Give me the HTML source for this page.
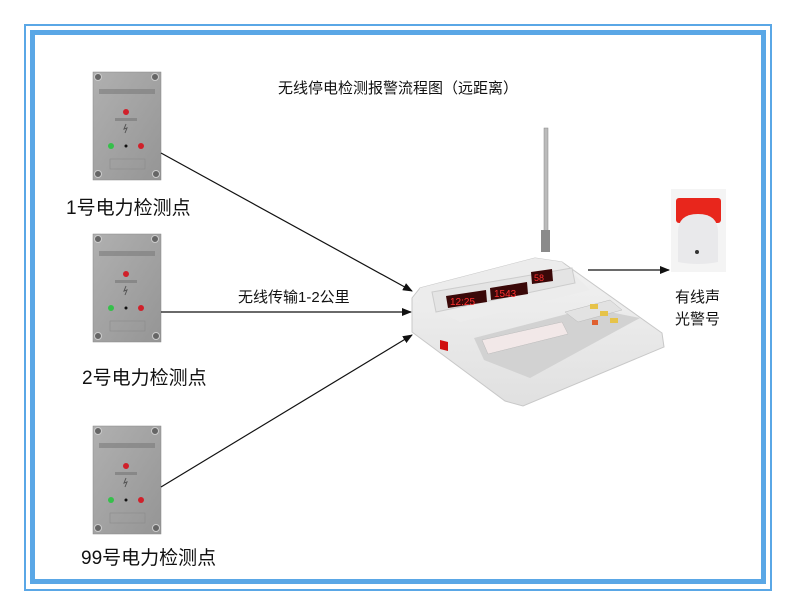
<!DOCTYPE html>
<html><head><meta charset="utf-8"><style>
html,body{margin:0;padding:0;background:#fff;width:799px;height:615px;overflow:hidden}
svg text{font-family:"Liberation Sans","Noto Sans CJK SC",sans-serif;fill:#111}
</style></head><body>
<svg width="799" height="615" viewBox="0 0 799 615" xmlns="http://www.w3.org/2000/svg">
<defs>
<linearGradient id="pg" x1="0" y1="0" x2="1" y2="1"><stop offset="0" stop-color="#b0b0b0"/><stop offset="1" stop-color="#959595"/></linearGradient>
<linearGradient id="bg" x1="0" y1="0" x2="0" y2="1"><stop offset="0" stop-color="#f2f2f2"/><stop offset="1" stop-color="#e0e0e0"/></linearGradient>
<marker id="ar" markerWidth="10" markerHeight="8" refX="9" refY="4" orient="auto" markerUnits="userSpaceOnUse"><path d="M0,0 L10,4 L0,8 Z" fill="#111"/></marker>
<g id="panel">
<rect x="0" y="0" width="68" height="108" fill="url(#pg)" stroke="#888" stroke-width="0.5"/>
<circle cx="5" cy="5" r="3.5" fill="#666" stroke="#ccc"/><circle cx="62" cy="5" r="3.5" fill="#666" stroke="#ccc"/>
<circle cx="5" cy="102" r="3.5" fill="#666" stroke="#ccc"/><circle cx="63" cy="102" r="3.5" fill="#666" stroke="#ccc"/>
<rect x="6" y="17" width="56" height="5" fill="#7c7c7c" opacity="0.6"/>
<circle cx="33" cy="40" r="3" fill="#d0202a"/>
<rect x="22" y="46" width="22" height="3" fill="#888"/>
<path d="M33,52 L31,57 L34,56 L32,61" stroke="#555" fill="none"/>
<circle cx="18" cy="74" r="3" fill="#35c04a"/><circle cx="33" cy="74" r="1.5" fill="#111"/><circle cx="48" cy="74" r="3" fill="#d0202a"/>
<rect x="17" y="87" width="35" height="10" fill="none" stroke="#8a8a8a" stroke-width="0.6"/>
</g>
</defs>
<rect x="25" y="25" width="746" height="565" fill="none" stroke="#5aa7e6" stroke-width="2"/>
<rect x="32.5" y="32.5" width="731" height="549" fill="none" stroke="#5aa7e6" stroke-width="5"/>
<text x="278" y="93" font-size="15">无线停电检测报警流程图（远距离）</text>
<use href="#panel" x="93" y="72"/>
<use href="#panel" x="93" y="234"/>
<use href="#panel" x="93" y="426"/>
<text x="66" y="214" font-size="19">1号电力检测点</text>
<text x="82" y="384" font-size="19">2号电力检测点</text>
<text x="81" y="564" font-size="19">99号电力检测点</text>
<text x="238" y="302" font-size="15">无线传输1-2公里</text>
<line x1="161" y1="153" x2="412" y2="291" stroke="#111" stroke-width="1.2" marker-end="url(#ar)"/>
<line x1="161" y1="312" x2="411" y2="312" stroke="#111" stroke-width="1.2" marker-end="url(#ar)"/>
<line x1="161" y1="487" x2="412" y2="335" stroke="#111" stroke-width="1.2" marker-end="url(#ar)"/>
<line x1="588" y1="270" x2="669" y2="270" stroke="#111" stroke-width="1.2" marker-end="url(#ar)"/>
<!-- antenna -->
<rect x="544" y="128" width="4" height="110" fill="#bbb" stroke="#888" stroke-width="0.5"/>
<rect x="541" y="230" width="9" height="22" fill="#8a8a8a"/>
<!-- device body -->
<polygon points="412,298 420,288 535,258 562,262 662,333 664,347 523,406 505,401 412,332" fill="url(#bg)" stroke="#c8c8c8"/>
<polygon points="420,288 535,258 562,262 590,290 460,322 418,300" fill="#ececec"/>
<polygon points="432,292 572,268 575,283 436,312" fill="#e4e4e4" stroke="#ccc"/>
<polygon points="446,296 486,290 487,302 448,308" fill="#3a0808"/><text x="450" y="305" font-size="10" style="fill:#ff3030">12:25</text>
<polygon points="490,288 527,282 528,294 491,300" fill="#3a0808"/><text x="494" y="297" font-size="10" style="fill:#ff3030">1543</text>
<polygon points="531,272 552,269 553,281 532,284" fill="#3a0808"/><text x="534" y="281" font-size="9" style="fill:#ff3030">58</text>
<polygon points="474,338 590,308 640,318 530,378 484,360" fill="#d2d2d2"/>
<polygon points="482,340 562,322 568,334 488,354" fill="#f2e8e8" stroke="#bbb" stroke-width="0.5"/>
<polygon points="565,312 610,300 622,310 578,322" fill="#e2e2e2" stroke="#bbb" stroke-width="0.5"/>
<rect x="590" y="304" width="8" height="5" fill="#e6c34a"/><rect x="600" y="311" width="8" height="5" fill="#e6c34a"/><rect x="610" y="318" width="8" height="5" fill="#e6c34a"/>
<rect x="592" y="320" width="6" height="5" fill="#e06030"/>
<polygon points="440,340 448,342 448,351 440,349" fill="#d01010"/>
<!-- alarm -->
<rect x="671" y="189" width="55" height="83" fill="#f4f4f4"/>
<rect x="676" y="198" width="45" height="25" rx="3" fill="#e8261c"/>
<path d="M678,262 L678,232 Q678,214 698,214 Q718,214 718,232 L718,262 Q698,266 678,262 Z" fill="#e9e9eb"/>
<circle cx="697" cy="252" r="2" fill="#333"/>
<text x="675" y="302" font-size="15">有线声</text>
<text x="675" y="324" font-size="15">光警号</text>
</svg>
</body></html>
